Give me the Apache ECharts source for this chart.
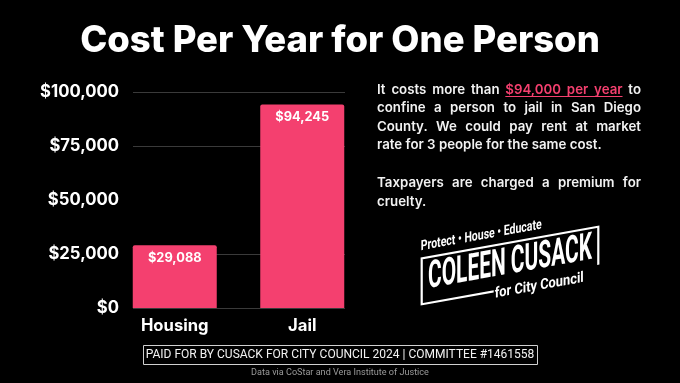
<!DOCTYPE html>
<html><head><meta charset="utf-8">
<script src="https://cdn.jsdelivr.net/npm/echarts@6/dist/echarts.min.js"></script>
<style>html,body{margin:0;padding:0;background:#000;}#c{width:680px;height:383px;}</style>
</head><body><div id="c"></div>
<script>
// ---- data ----
const titleText = 'Cost Per Year for One Person';
const categories = ['Housing', 'Jail'];
const values = [29088, 94245];
const valueLabels = ['$29,088', '$94,245'];
const yTickLabels = ['$0', '$25,000', '$50,000', '$75,000', '$100,000'];
const yMin = 0, yMax = 100000, yStep = 25000;
const paraLines = [
  'It costs more than [$94,000 per year] to',
  'confine a person to jail in San Diego',
  'County. We could pay rent at market',
  'rate for 3 people for the same cost.',
  '',
  'Taxpayers are charged a premium for',
  'cruelty.'
];
const paraJustify = [true, true, true, false, false, true, false];
const logoTagline = 'Protect \u2022 House \u2022 Educate';
const logoName = 'COLEEN CUSACK';
const logoSub = 'for City Council';
const footerText = 'PAID FOR BY CUSACK FOR CITY COUNCIL 2024 | COMMITTEE #1461558';
const sourceText = 'Data via CoStar and Vera Institute of Justice';

// ---- helpers ----
const cv = document.createElement('canvas').getContext('2d');
function measure(t, weight, size, family) { cv.font = weight + ' ' + size + 'px ' + family; return cv.measureText(t).width; }
function fit(t, weight, family, width) { return 100 * width / measure(t, weight, 100, family); }

const PINK = '#f4406f';
const F = 'Inter';
const titleSize = fit(titleText, 800, F, 520);
const yLabSize = fit('$100,000', 700, F, 79);
const catSize = fit('Housing', 700, F, 67.6);
const valSize = fit('$94,245', 700, F, 54);
const paraSize = fit('rate for 3 people for the same cost.', 600, F, 225);
const footSize = fit(footerText, 400, 'Roboto', 389);
const srcSize = fit(sourceText, 400, 'Roboto', 178);

const graphics = [];
graphics.push({ type: 'text', x: 340, y: 41, style: { text: titleText, fontFamily: F, fontWeight: 800, fontSize: titleSize, fill: '#fff', textAlign: 'center', textVerticalAlign: 'middle' } });

// paragraph (justified)
const px0 = 377, pW = 264;
const lineY = [90, 108.5, 127, 145.5, 0, 183.5, 202];
paraLines.forEach((line, i) => {
  if (!line) return;
  const words = [];
  let pink = false;
  line.split(' ').forEach(w => {
    let word = w, p = pink;
    if (word.startsWith('[')) { word = word.slice(1); p = true; pink = true; }
    if (word.endsWith(']')) { word = word.slice(0, -1); pink = false; }
    words.push({ w: word, pink: p, width: measure(word, 600, paraSize, F) });
  });
  const sum = words.reduce((a, b) => a + b.width, 0);
  const gap = paraJustify[i] ? (pW - sum) / (words.length - 1) : measure(' ', 600, paraSize, F);
  let x = px0;
  let uStart = null, uEnd = null;
  words.forEach(wd => {
    graphics.push({ type: 'text', x: x, y: lineY[i], style: { text: wd.w, fontFamily: F, fontWeight: 600, fontSize: paraSize, fill: wd.pink ? PINK : '#f2f2f2', textAlign: 'left', textVerticalAlign: 'middle' } });
    if (wd.pink) { if (uStart === null) uStart = x; uEnd = x + wd.width; }
    x += wd.width + gap;
  });
  if (uStart !== null) {
    graphics.push({ type: 'line', shape: { x1: uStart, y1: lineY[i] + 6.5, x2: uEnd, y2: lineY[i] + 6.5 }, style: { stroke: PINK, lineWidth: 1.2 } });
  }
});

// logo
function condensed(t, cap, width, x, baseline) {
  const fs = cap / 0.711;
  const w = measure(t, 700, fs, 'Roboto');
  return { type: 'text', x: x, y: baseline - cap / 2, scaleX: width / w, style: { text: t, x: 0, y: 0, fontFamily: 'Roboto', fontWeight: 700, fontSize: fs, fill: '#fff', textAlign: 'left', textVerticalAlign: 'middle' } };
}
graphics.push({
  type: 'group', x: 421.7, y: 258.3, skewY: 0.177,
  children: [
    { type: 'polyline', shape: { points: [[72, 46], [0, 46], [0, 0], [176.6, 0], [176.6, 38]] }, style: { stroke: '#fff', lineWidth: 2.2, fill: null } },
    condensed(logoName, 27, 164, 6.3, 34.8),
    condensed(logoSub, 10.5, 89, 73, 54),
    condensed(logoTagline, 10, 121, -1, -6.8)
  ]
});

// footer
graphics.push({ type: 'rect', shape: { x: 143.5, y: 345.5, width: 394, height: 19 }, style: { stroke: '#d0d0d0', lineWidth: 1, fill: null } });
graphics.push({ type: 'text', x: 340, y: 355, style: { text: footerText, fontFamily: 'Roboto', fontWeight: 400, fontSize: footSize, fill: '#f2f2f2', textAlign: 'center', textVerticalAlign: 'middle' } });
graphics.push({ type: 'text', x: 340, y: 373, style: { text: sourceText, fontFamily: 'Roboto', fontWeight: 400, fontSize: srcSize, fill: '#9a9a9a', textAlign: 'center', textVerticalAlign: 'middle' } });

const chart = echarts.init(document.getElementById('c'), null, { renderer: 'canvas' });
chart.setOption({
  backgroundColor: '#000',
  animation: false,
  textStyle: { fontFamily: F },
  grid: [
    { left: 111, right: 314, top: 92, bottom: 75 },
    { left: 133, right: 335, top: 92, bottom: 75 }
  ],
  xAxis: [
    { type: 'category', gridIndex: 0, data: categories, axisLine: { show: false }, axisTick: { show: false },
      axisLabel: { color: '#fff', fontWeight: 700, fontSize: catSize, margin: 10 } },
    { type: 'value', gridIndex: 1, show: false }
  ],
  yAxis: [
    { type: 'value', gridIndex: 0, min: yMin, max: yMax, interval: yStep, show: false },
    { type: 'value', gridIndex: 1, min: yMin, max: yMax, interval: yStep,
      axisLine: { show: false }, axisTick: { show: false },
      axisLabel: { color: '#fff', fontWeight: 700, fontSize: yLabSize, margin: 14, formatter: (v, i) => yTickLabels[i] },
      splitLine: { show: true, lineStyle: { color: ['#3a3a3a', '#3a3a3a', '#000', '#3a3a3a', '#3a3a3a'], width: 1 } } }
  ],
  series: [{
    type: 'bar', xAxisIndex: 0, yAxisIndex: 0, data: values, barWidth: 84,
    itemStyle: { color: PINK, borderRadius: [2, 2, 0, 0] },
    label: { show: true, position: 'insideTop', distance: 6, color: '#fff', fontWeight: 700, fontSize: valSize,
      formatter: p => valueLabels[p.dataIndex] }
  }],
  graphic: graphics
});
</script></body></html>
